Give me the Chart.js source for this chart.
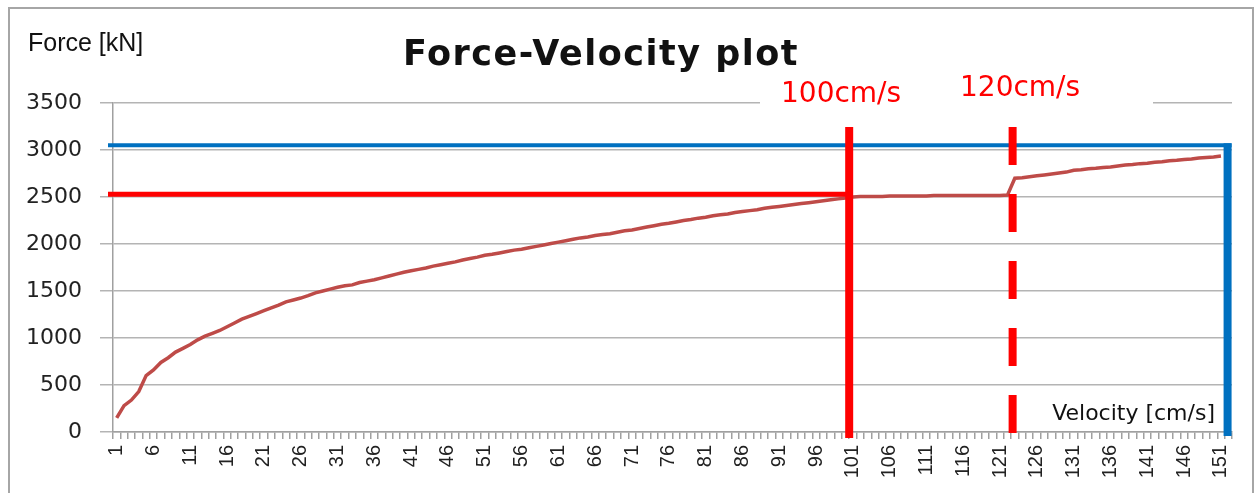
<!DOCTYPE html>
<html><head><meta charset="utf-8">
<script src="https://cdn.jsdelivr.net/npm/chart.js@4/dist/chart.umd.min.js"></script>
<style>html,body{margin:0;padding:0;background:#fff}#wrap{width:1260px;height:493px}</style>
</head><body><div id="wrap"><canvas id="c" width="1260" height="493"></canvas></div>
<script>
const velocities = ["1","2","3","4","5","6","7","8","9","10","11","12","13","14","15","16","17","18","19","20","21","22","23","24","25","26","27","28","29","30","31","32","33","34","35","36","37","38","39","40","41","42","43","44","45","46","47","48","49","50","51","52","53","54","55","56","57","58","59","60","61","62","63","64","65","66","67","68","69","70","71","72","73","74","75","76","77","78","79","80","81","82","83","84","85","86","87","88","89","90","91","92","93","94","95","96","97","98","99","100","101","102","103","104","105","106","107","108","109","110","111","112","113","114","115","116","117","118","119","120","121","122","123","124","125","126","127","128","129","130","131","132","133","134","135","136","137","138","139","140","141","142","143","144","145","146","147","148","149","150","151","152"];
const tickLabels = ["1","6","11","16","21","26","31","36","41","46","51","56","61","66","71","76","81","86","91","96","101","106","111","116","121","126","131","136","141","146","151"];
const force = [150,280,340,430,600,660,740,790,850,890,930,980,1020,1050,1080,1120,1160,1200,1230,1260,1290,1320,1350,1385,1405,1425,1450,1480,1500,1520,1540,1555,1565,1590,1605,1620,1640,1660,1680,1700,1715,1730,1745,1765,1780,1795,1810,1830,1845,1860,1880,1890,1905,1920,1935,1945,1960,1975,1990,2005,2020,2035,2050,2065,2075,2090,2100,2110,2125,2140,2150,2165,2180,2195,2210,2220,2235,2250,2260,2275,2285,2300,2310,2320,2335,2345,2355,2365,2380,2390,2400,2410,2420,2430,2440,2450,2460,2470,2480,2490,2500,2505,2505,2505,2505,2510,2510,2510,2510,2510,2510,2515,2515,2515,2515,2515,2515,2515,2515,2515,2515,2520,2700,2705,2715,2725,2735,2745,2755,2765,2785,2790,2800,2805,2815,2820,2830,2840,2845,2855,2860,2870,2875,2885,2890,2900,2905,2915,2920,2925,2935,null];
const yTickValues = [0,500,1000,1500,2000,2500,3000,3500];
// reference markers (velocity position on the category axis, top force)
const markerVelocities = [100.5, 122.7, 151.9];
const markerTopForces = [3245, 3245, 3050];
const limitForces = [2530, 3050];
const markerLabels = ["100cm/s", "120cm/s"];
const titleText = "Force-Velocity plot";
const yAxisTitle = "Force [kN]";
const xAxisTitle = "Velocity [cm/s]";

const overlay = {
  id: 'overlay',
  afterDatasetsDraw(chart) {
    const {ctx, chartArea: a, scales: {x, y}} = chart;
    const px = v => x.getPixelForValue(v - 1);
    ctx.save();
    ctx.fillStyle = '#fff';
    ctx.fillRect(760, a.top - 6, 393, 12);
    ctx.lineCap = 'butt';
    ctx.strokeStyle = '#ff0000';
    ctx.lineWidth = 5;
    ctx.beginPath();
    ctx.moveTo(a.left - 5, y.getPixelForValue(limitForces[0]));
    ctx.lineTo(px(markerVelocities[0]), y.getPixelForValue(limitForces[0]));
    ctx.stroke();
    ctx.strokeStyle = '#0070c0';
    ctx.lineWidth = 4;
    ctx.beginPath();
    ctx.moveTo(a.left - 5, y.getPixelForValue(limitForces[1]));
    ctx.lineTo(px(markerVelocities[2]) + 4, y.getPixelForValue(limitForces[1]));
    ctx.stroke();
    ctx.strokeStyle = '#ff0000';
    ctx.lineWidth = 8;
    ctx.beginPath();
    ctx.moveTo(px(markerVelocities[0]), y.getPixelForValue(markerTopForces[0]));
    ctx.lineTo(px(markerVelocities[0]), a.bottom + 6);
    ctx.stroke();
    ctx.setLineDash([38, 29]);
    ctx.beginPath();
    ctx.moveTo(px(markerVelocities[1]), y.getPixelForValue(markerTopForces[1]));
    ctx.lineTo(px(markerVelocities[1]), a.bottom + 1);
    ctx.stroke();
    ctx.setLineDash([]);
    ctx.strokeStyle = '#0070c0';
    ctx.lineWidth = 8;
    ctx.beginPath();
    ctx.moveTo(px(markerVelocities[2]), y.getPixelForValue(markerTopForces[2]) - 2);
    ctx.lineTo(px(markerVelocities[2]), a.bottom + 4);
    ctx.stroke();
    ctx.fillStyle = '#ff0000';
    ctx.font = '28px "DejaVu Sans"';
    ctx.textAlign = 'left';
    ctx.textBaseline = 'alphabetic';
    ctx.fillText(markerLabels[0], 781, 102);
    ctx.fillText(markerLabels[1], 960, 96);
    ctx.fillStyle = '#111';
    ctx.font = 'bold 35px "DejaVu Sans"';
    ctx.textAlign = 'center';
    ctx.letterSpacing = '1.5px';
    ctx.fillText(titleText, 601, 65);
    ctx.letterSpacing = '0px';
    ctx.font = '25px "Liberation Sans"';
    ctx.textAlign = 'left';
    ctx.fillText(yAxisTitle, 28, 51);
    ctx.font = '22px "DejaVu Sans"';
    ctx.textAlign = 'right';
    ctx.fillText(xAxisTitle, 1215, 420);
    ctx.strokeStyle = '#a6a6a6';
    ctx.lineWidth = 2;
    ctx.strokeRect(9, 8, 1244, 500);
    ctx.restore();
  }
};

new Chart(document.getElementById('c'), {
  type: 'line',
  data: {
    labels: velocities,
    datasets: [{
      label: 'Force',
      data: force,
      borderColor: '#be4b48',
      borderWidth: 3.5,
      pointRadius: 0,
      tension: 0,
      spanGaps: false
    }]
  },
  options: {
    responsive: false,
    animation: false,
    devicePixelRatio: 1,
    layout: {padding: {left: 0, right: 28, top: 103, bottom: 0}},
    plugins: {legend: {display: false}, title: {display: false}, tooltip: {enabled: false}},
    scales: {
      x: {
        type: 'category',
        offset: true,
        grid: {offset: true, drawOnChartArea: false, drawTicks: true, tickLength: 7, color: '#a0a0a0', lineWidth: 1.5},
        border: {color: '#a0a0a0', width: 1.5},
        ticks: {
          autoSkip: false, maxRotation: 90, minRotation: 90, padding: 6,
          font: {family: 'Liberation Sans', size: 20}, color: '#222',
          callback: (v, i) => tickLabels.includes(velocities[i]) ? velocities[i] : ''
        },
        afterFit: s => { s.height = 61; }
      },
      y: {
        min: 0, max: 3500,
        afterBuildTicks: s => { s.ticks = yTickValues.map(v => ({value: v})); },
        grid: {color: '#b4b4b4', lineWidth: 1.5, tickLength: 13},
        border: {color: '#a0a0a0', width: 1.5},
        ticks: {padding: 18, font: {family: 'DejaVu Sans', size: 22}, color: '#222', callback: v => String(v)},
        afterFit: s => { s.width = 113; }
      }
    }
  },
  plugins: [overlay]
});
</script></body></html>
